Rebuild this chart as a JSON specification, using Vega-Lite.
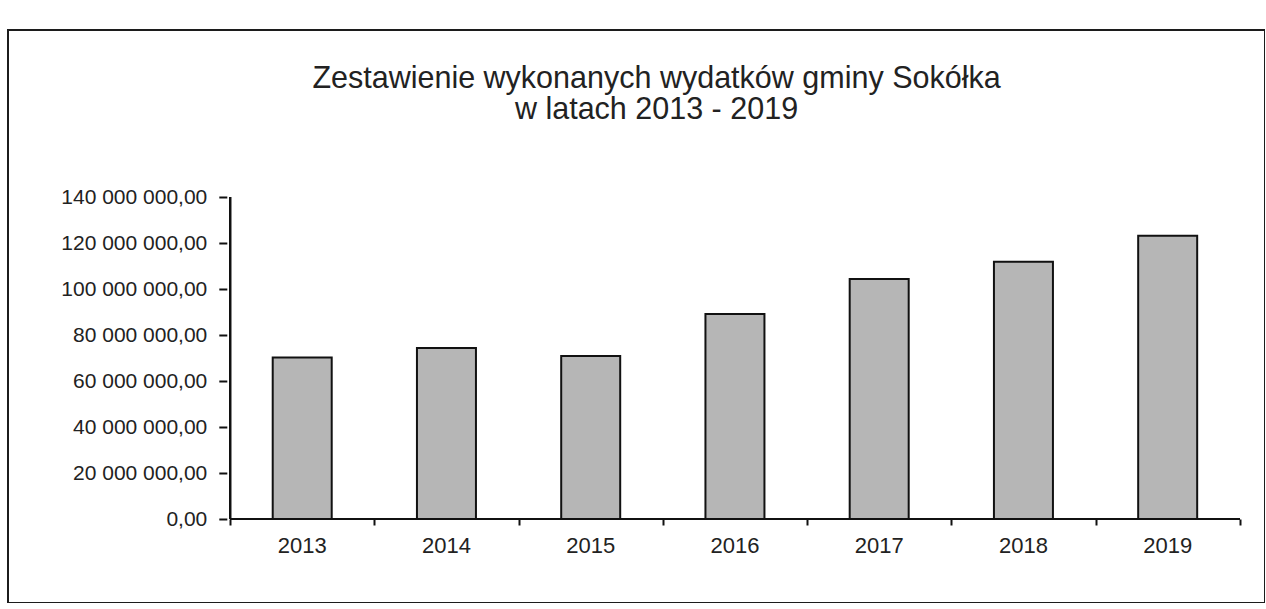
{
  "$schema": "https://vega.github.io/schema/vega-lite/v6.json",
  "autosize": "none",
  "padding": {"left": 8, "top": 30, "right": 0, "bottom": 0},
  "width": 1257,
  "height": 573,
  "background": "white",
  "config": {
    "font": "Liberation Sans",
    "locale": {"number": {"decimal": ",", "thousands": " ", "grouping": [3], "currency": ["", ""]}},
    "view": {"stroke": "#1c1c1c", "strokeWidth": 2}
  },
  "title": {
    "text": ["Zestawienie wykonanych wydatków gminy Sokółka", "w latach 2013 - 2019"],
    "fontSize": 30.5,
    "fontWeight": "normal",
    "color": "#222222",
    "anchor": "middle",
    "frame": "group",
    "offset": -95,
    "dx": 20,
    "lineHeight": 31
  },
  "data": {
    "values": [
      {"year": 2013, "value": 70200000},
      {"year": 2014, "value": 74300000},
      {"year": 2015, "value": 70900000},
      {"year": 2016, "value": 89100000},
      {"year": 2017, "value": 104300000},
      {"year": 2018, "value": 111800000},
      {"year": 2019, "value": 123100000}
    ]
  },
  "layer": [
    {
      "mark": {"type": "bar", "width": 59, "fill": "#b6b6b6", "stroke": "#111111", "strokeWidth": 2},
      "encoding": {
        "x": {
          "field": "year",
          "type": "quantitative",
          "scale": {"domain": [2010.995, 2019.64], "nice": false, "zero": false},
          "axis": {
            "values": [2012.5, 2013.5, 2014.5, 2015.5, 2016.5, 2017.5, 2018.5, 2019.5],
            "labels": false,
            "domain": false,
            "grid": false,
            "tickSize": 6,
            "tickWidth": 2,
            "tickColor": "#111111",
            "offset": -84,
            "title": null
          }
        },
        "y": {
          "field": "value",
          "type": "quantitative",
          "scale": {"domain": [-36520000, 212610000], "nice": false, "zero": false},
          "axis": {
            "values": [0, 20000000, 40000000, 60000000, 80000000, 100000000, 120000000, 140000000],
            "format": ",.2f",
            "offset": -218.8,
            "domain": false,
            "grid": false,
            "tickSize": 8,
            "tickWidth": 2,
            "tickColor": "#111111",
            "labelFontSize": 21,
            "labelColor": "#222222",
            "labelPadding": 12,
            "title": null
          }
        },
        "y2": {"datum": 0}
      }
    },
    {
      "mark": {"type": "rule", "stroke": "#111111", "strokeWidth": 2},
      "encoding": {
        "x": {"datum": 2012.5},
        "y": {"datum": 0},
        "y2": {"datum": 140000000}
      }
    },
    {
      "mark": {"type": "rule", "stroke": "#111111", "strokeWidth": 2},
      "encoding": {
        "x": {"datum": 2012.5},
        "x2": {"datum": 2019.5},
        "y": {"datum": 0}
      }
    },
    {
      "mark": {"type": "text", "dy": 27, "fontSize": 22, "baseline": "middle", "align": "center", "color": "#222222"},
      "encoding": {
        "x": {"field": "year", "type": "quantitative"},
        "y": {"datum": 0},
        "text": {"field": "year", "type": "nominal"}
      }
    }
  ]
}
